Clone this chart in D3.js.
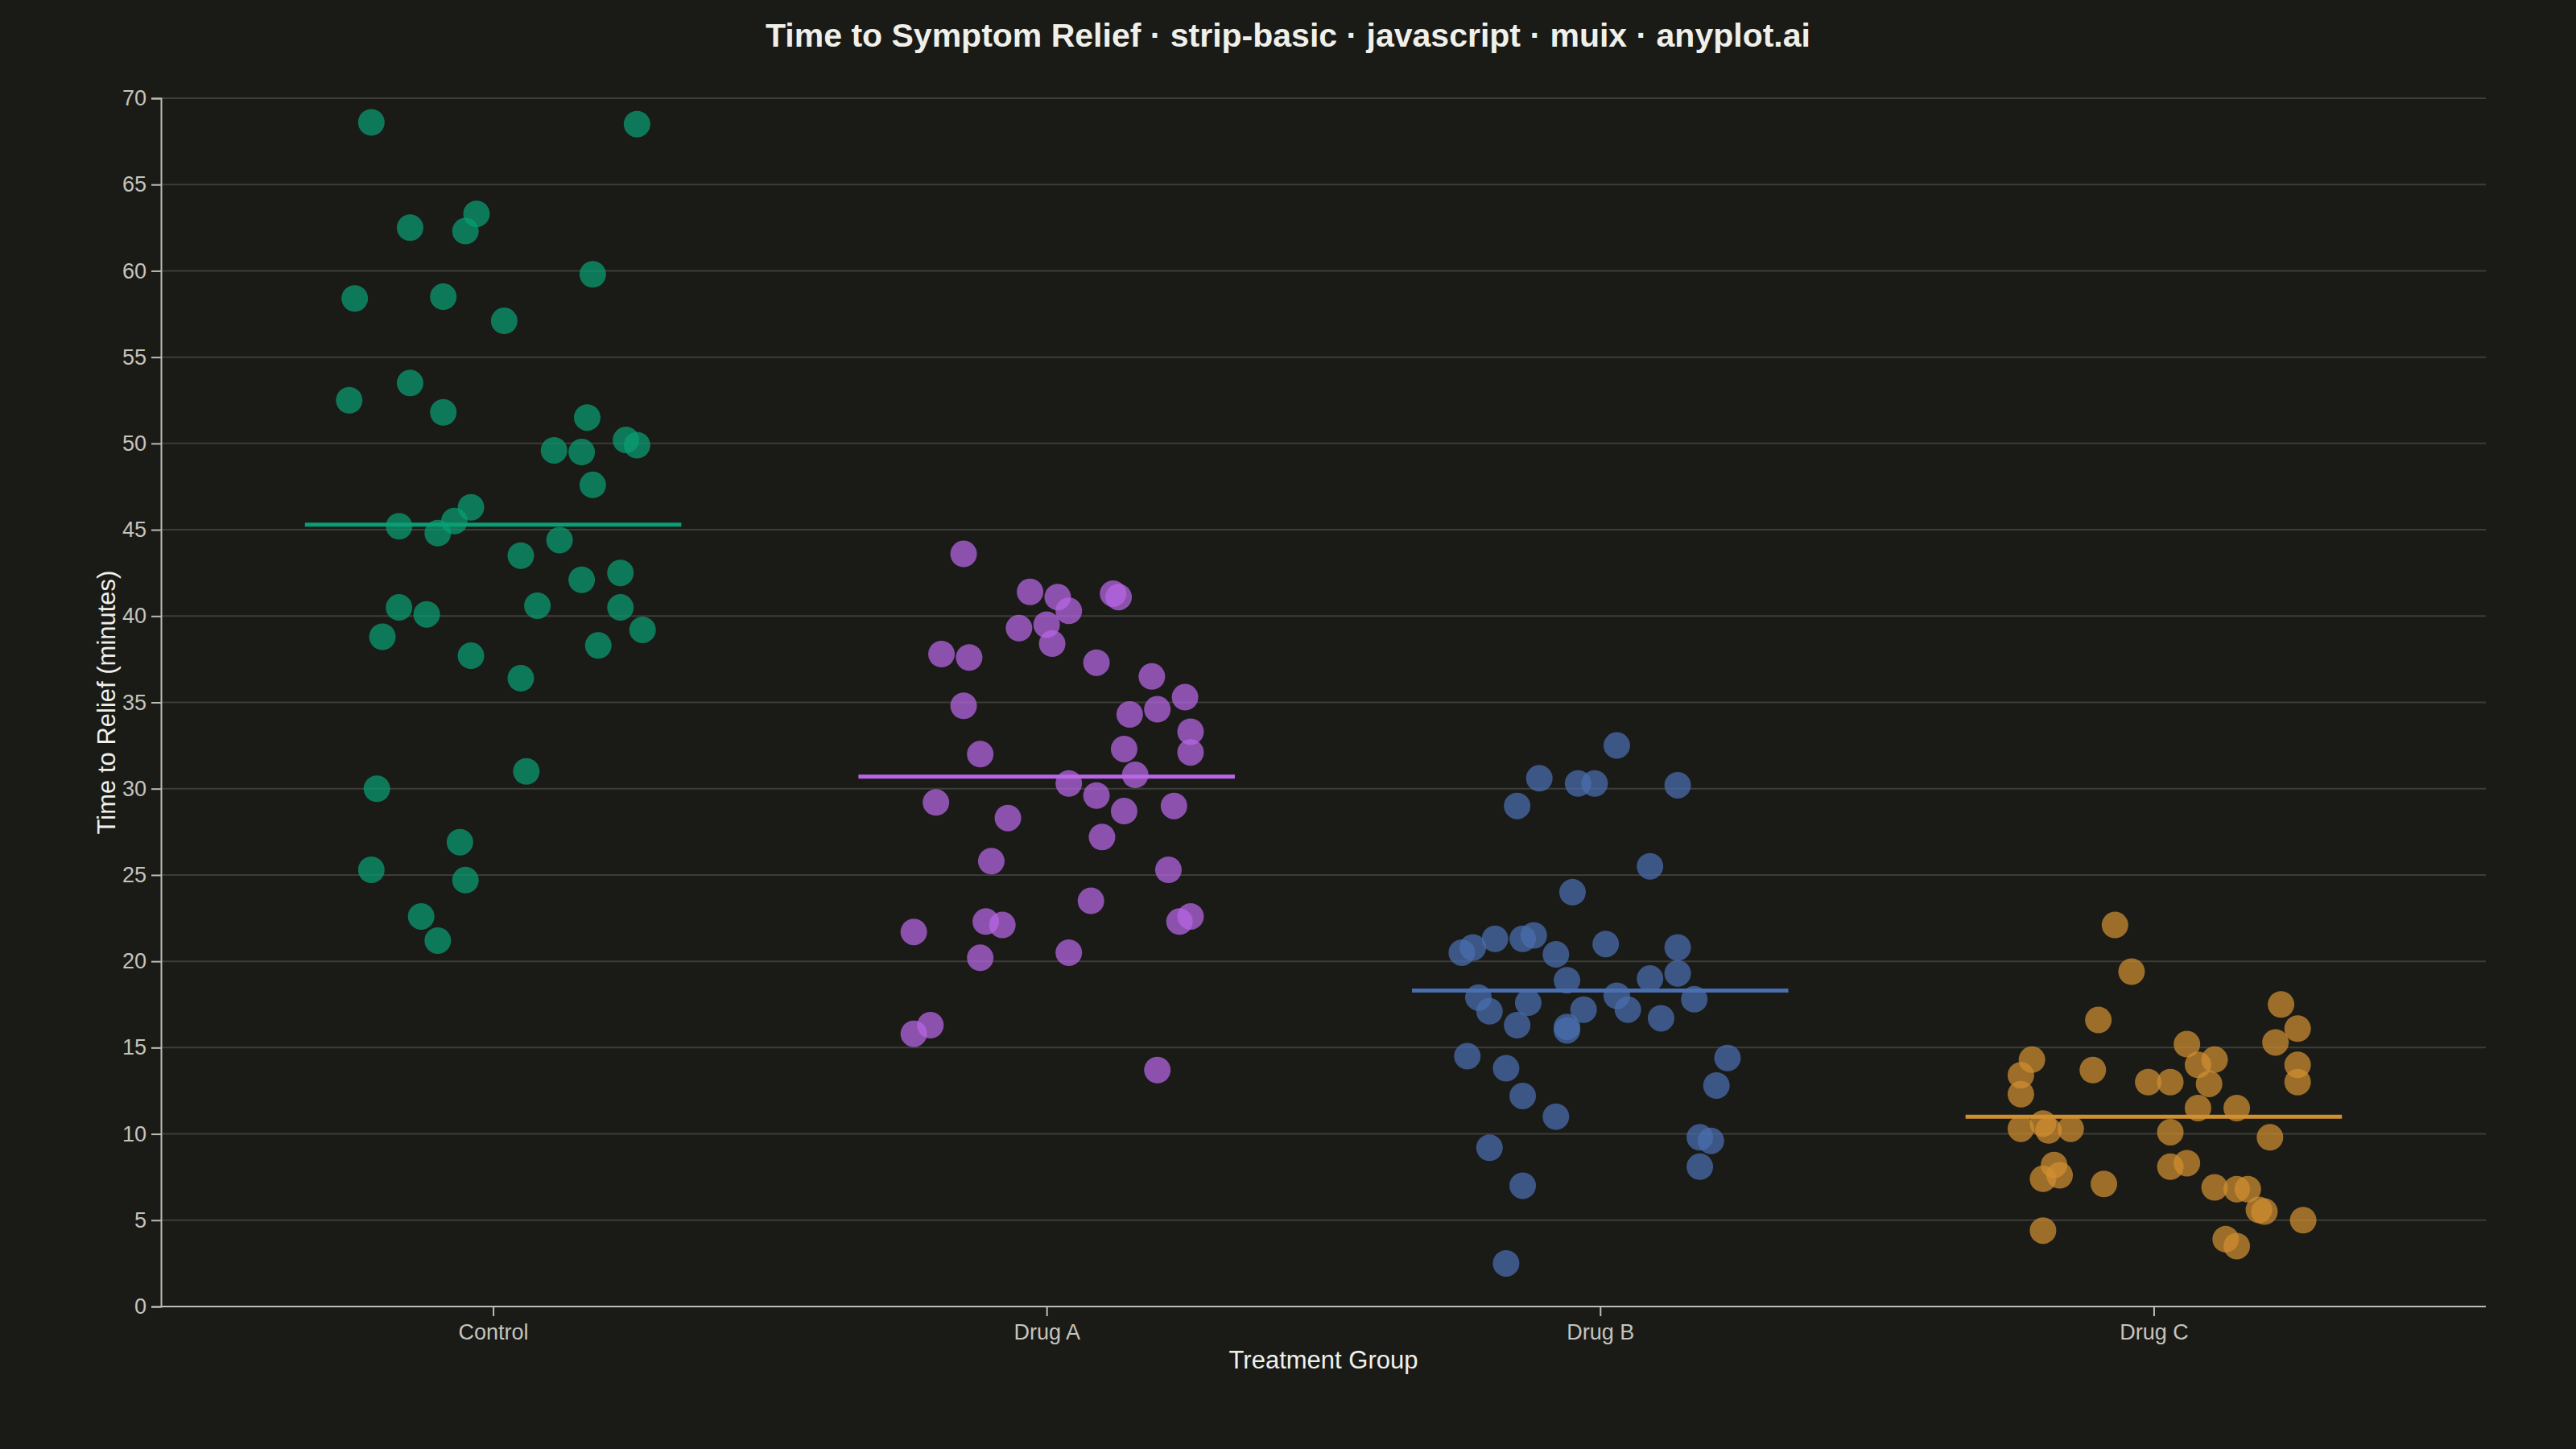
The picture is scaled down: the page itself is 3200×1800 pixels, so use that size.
<!DOCTYPE html>
<html><head><meta charset="utf-8">
<script src="https://cdn.jsdelivr.net/npm/d3@7"></script>
<style>body{margin:0;background:#1a1a17;}svg{display:block;}</style>
</head><body>
<svg id="chart" width="3200" height="1800"></svg>
<script>
var width = 3200, height = 1800;
var margin = { top: 122, right: 112, bottom: 177, left: 200 };

var groups = ["Control", "Drug A", "Drug B", "Drug C"];
var colors = ["#0a9e73", "#b967e6", "#4a6fb0", "#d08f30"];
var means = [45.3, 30.7, 18.3, 11.0];
var yTicks = d3.range(0, 71, 5);

// values, jitter = offset in category steps
var controlValues = [68.6,68.5,63.3,62.5,62.3,59.8,58.4,58.5,57.1,53.5,52.5,51.8,51.5,50.2,49.9,49.6,49.5,47.6,46.3,45.5,45.2,44.8,44.4,43.5,42.5,42.1,40.6,40.5,40.1,40.5,39.2,38.8,38.3,37.7,36.4,31.0,30.0,26.9,25.3,24.7,22.6,21.2];
var controlJitter = [-0.22,0.26,-0.03,-0.15,-0.05,0.18,-0.25,-0.09,0.02,-0.15,-0.26,-0.09,0.17,0.24,0.26,0.11,0.16,0.18,-0.04,-0.07,-0.17,-0.10,0.12,0.05,0.23,0.16,0.08,-0.17,-0.12,0.23,0.27,-0.20,0.19,-0.04,0.05,0.06,-0.21,-0.06,-0.22,-0.05,-0.13,-0.10];
var drugAValues = [43.6,41.4,41.1,41.3,41.1,40.3,39.3,39.5,38.4,37.8,37.6,37.3,36.5,35.3,34.8,34.6,34.3,33.3,32.0,32.3,32.1,30.8,30.3,29.6,29.2,29.0,28.7,28.3,27.2,25.8,25.3,23.5,22.3,22.1,22.6,22.3,21.7,20.2,20.5,16.3,15.8,13.7];
var drugAJitter = [-0.15,-0.03,0.02,0.12,0.13,0.04,-0.05,0,0.01,-0.19,-0.14,0.09,0.19,0.25,-0.15,0.20,0.15,0.26,-0.12,0.14,0.26,0.16,0.04,0.09,-0.20,0.23,0.14,-0.07,0.10,-0.10,0.22,0.08,-0.11,-0.08,0.26,0.24,-0.24,-0.12,0.04,-0.21,-0.24,0.20];
var drugBValues = [32.5,30.6,30.3,30.3,30.2,29.0,25.5,24.0,21.3,21.3,21.5,21.0,20.5,20.8,20.4,20.8,18.9,19.0,19.3,17.9,17.6,18.0,17.8,17.1,17.2,17.2,16.7,16.3,16.0,16.2,14.5,14.4,13.8,12.8,12.2,11.0,9.8,9.6,9.2,8.1,7.0,2.5];
var drugBJitter = [0.03,-0.11,-0.04,-0.01,0.14,-0.15,0.09,-0.05,-0.19,-0.14,-0.12,0.01,-0.25,-0.23,-0.08,0.14,-0.06,0.09,0.14,-0.22,-0.13,0.03,0.17,-0.20,-0.03,0.05,0.11,-0.15,-0.06,-0.06,-0.24,0.23,-0.17,0.21,-0.14,-0.08,0.18,0.20,-0.20,0.18,-0.14,-0.17];
var drugCValues = [22.1,19.4,16.6,17.5,16.1,15.2,15.3,14.3,14.0,14.3,14.0,13.4,13.7,13.0,13.0,12.9,13.0,12.3,11.5,11.5,10.6,10.3,10.2,10.3,10.1,9.8,8.2,8.1,8.3,7.4,7.6,7.1,6.9,6.8,6.8,5.6,5.5,5.0,4.4,3.9,3.5];
var drugCJitter = [-0.07,-0.04,-0.10,0.23,0.26,0.06,0.22,-0.22,0.08,0.11,0.26,-0.24,-0.11,-0.01,0.03,0.10,0.26,-0.24,0.08,0.15,-0.20,-0.24,-0.19,-0.15,0.03,0.21,-0.18,0.03,0.06,-0.20,-0.17,-0.09,0.11,0.15,0.17,0.19,0.20,0.27,-0.20,0.13,0.15];

var allValues = [controlValues, drugAValues, drugBValues, drugCValues];
var allJitter = [controlJitter, drugAJitter, drugBJitter, drugCJitter];

var svg = d3.select("#chart");
svg.append("rect").attr("width", width).attr("height", height).attr("fill", "#1a1a17");

var x = d3.scalePoint().domain(groups).range([margin.left, width - margin.right]).padding(0.6);
var y = d3.scaleLinear().domain([0, 70]).range([height - margin.bottom, margin.top]);
var step = x.step();

// grid
svg.append("g").selectAll("line").data(yTicks.slice(1)).join("line")
    .attr("x1", margin.left).attr("x2", width - margin.right)
    .attr("y1", d => y(d)).attr("y2", d => y(d))
    .attr("stroke", "#3c3c38").attr("stroke-width", 2);

var yAxis = svg.append("g").attr("transform", "translate(" + margin.left + ",0)")
    .call(d3.axisLeft(y).tickValues(yTicks).tickSize(12).tickPadding(6));
var xAxis = svg.append("g").attr("transform", "translate(0," + (height - margin.bottom) + ")")
    .call(d3.axisBottom(x).tickSize(12).tickPadding(10).tickSizeOuter(0));
[yAxis, xAxis].forEach(function (a) {
    a.select(".domain").attr("stroke", "#bdbdb5").attr("stroke-width", 2);
    a.selectAll(".tick line").attr("stroke", "#bdbdb5").attr("stroke-width", 2);
    a.selectAll("text").attr("fill", "#c4c4bc").attr("font-size", 27).attr("font-family", "Liberation Sans, Arial, sans-serif");
});
xAxis.select(".domain").attr("d", "M" + margin.left + ",0H" + (width - margin.right));

// points
groups.forEach(function (g, i) {
    var pts = allValues[i].map((v, j) => ({ v: v, j: allJitter[i][j] }));
    svg.append("g").selectAll("circle").data(pts).join("circle")
        .attr("cx", d => x(g) + d.j * step)
        .attr("cy", d => y(d.v))
        .attr("r", 16.5)
        .attr("fill", colors[i]).attr("fill-opacity", 0.72);
    svg.append("line")
        .attr("x1", x(g) - 0.34 * step).attr("x2", x(g) + 0.34 * step)
        .attr("y1", y(means[i])).attr("y2", y(means[i]))
        .attr("stroke", colors[i]).attr("stroke-width", 5);
});

svg.append("text").attr("x", width / 2).attr("y", 58).attr("text-anchor", "middle")
    .attr("fill", "#f0f0ea").attr("font-size", 41).attr("font-weight", "bold")
    .attr("font-family", "Liberation Sans, Arial, sans-serif")
    .text("Time to Symptom Relief · strip-basic · javascript · muix · anyplot.ai");
svg.append("text").attr("x", (margin.left + width - margin.right) / 2).attr("y", 1700).attr("text-anchor", "middle")
    .attr("fill", "#f0f0ea").attr("font-size", 31).attr("font-family", "Liberation Sans, Arial, sans-serif")
    .text("Treatment Group");
svg.append("text").attr("transform", "translate(143," + ((margin.top + height - margin.bottom) / 2) + ")rotate(-90)")
    .attr("text-anchor", "middle").attr("fill", "#f0f0ea").attr("font-size", 31)
    .attr("font-family", "Liberation Sans, Arial, sans-serif")
    .text("Time to Relief (minutes)");
</script>
</body></html>
